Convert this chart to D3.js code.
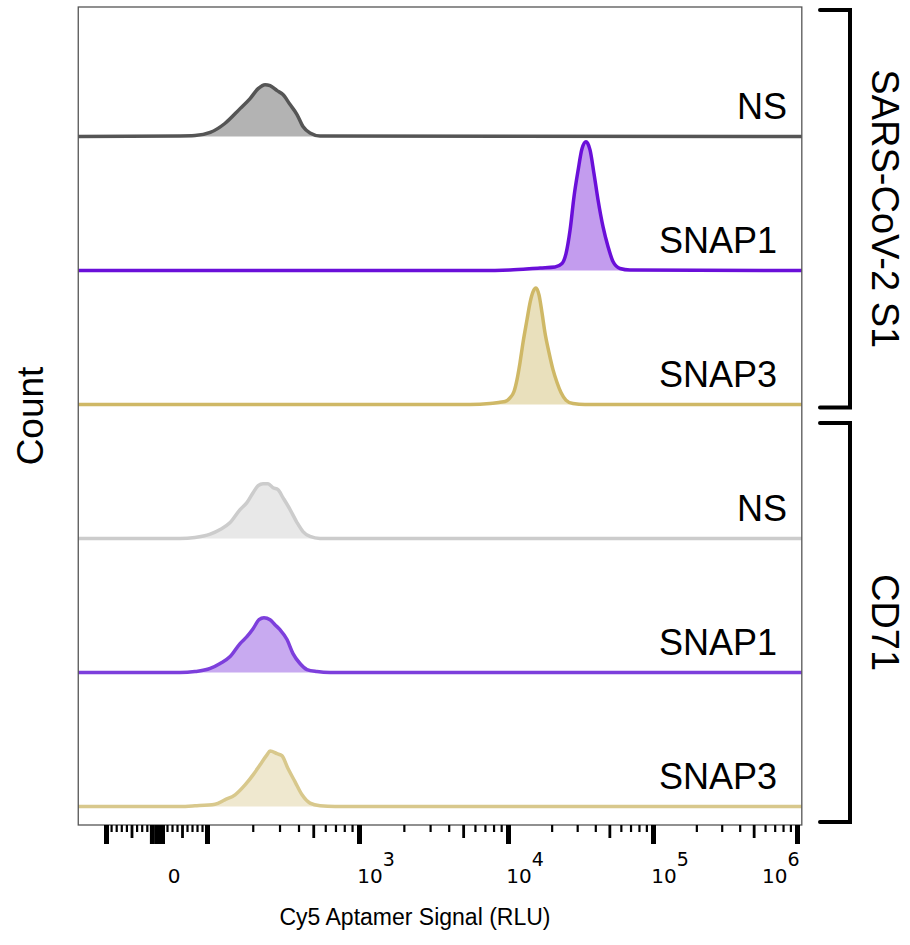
<!DOCTYPE html>
<html><head><meta charset="utf-8">
<script src="https://cdn.jsdelivr.net/npm/d3@7"></script>
<style>body{margin:0;background:#fff}svg{display:block}</style>
</head><body><svg id="c" width="910" height="945"></svg>
<script>
// ---- data ----
const rowLabels = ["NS", "SNAP1", "SNAP3", "NS", "SNAP1", "SNAP3"];
const groupLabels = ["SARS-CoV-2 S1", "CD71"];
const strokeColors = ["#555555", "#6a0fd9", "#cfb866", "#cccccc", "#7d3fdc", "#d8c88c"];
const fillColors = ["#b3b3b3", "#c39cee", "#e9e0bc", "#e8e8e8", "#c8aaf0", "#efe8cf"];

// S1 / NS
const s1NsRlu   = [46, 76, 105, 131, 165, 192, 217, 241, 260, 289, 316, 352, 391, 428, 476, 554];
const s1NsCount = [0.4, 0.7, 3.0, 9.7, 20.8, 28.3, 35.7, 38.7, 37.9, 34.2, 31.3, 23.8, 16.4, 7.4, 2.6, 0.4];
// S1 / SNAP1
const s1Snap1Rlu   = [6490, 10320, 16630, 21100, 23570, 25120, 26770, 28520, 30400, 32380, 34510, 36780, 39190, 41760, 45210, 48940, 52980, 59220, 69400];
const s1Snap1Count = [0, 0.4, 1.9, 2.6, 5.2, 12.6, 29.8, 55.1, 74.4, 90.8, 96.0, 90.0, 72.2, 52.8, 32.7, 17.9, 6.7, 1.5, 0.4];
// S1 / SNAP3
const s1Snap3Rlu   = [5560, 7570, 8840, 9550, 10320, 11000, 11540, 12100, 12690, 13520, 14180, 14870, 15600, 16360, 17160, 17990, 19180, 20430, 21780, 23200, 25120, 28070, 33960];
const s1Snap3Count = [0, 0.7, 1.7, 2.2, 5.0, 9.7, 18.6, 31.2, 46.1, 63.2, 75.9, 84.1, 87.0, 81.8, 68.4, 53.6, 38.7, 26.0, 16.4, 8.9, 3.2, 0.7, 0];
// CD71 / NS
const cdNsRlu   = [46, 76, 105, 122, 142, 165, 183, 201, 217, 234, 252, 272, 293, 316, 352, 391, 428, 476, 554];
const cdNsCount = [0, 0.7, 3.2, 6.7, 11.9, 21.6, 26.8, 34.2, 39.4, 40.9, 40.9, 37.9, 36.5, 30.5, 21.6, 11.9, 5.2, 1.5, 0];
// CD71 / SNAP1
const cdSnap1Rlu   = [46, 76, 105, 122, 142, 165, 183, 201, 220, 237, 260, 280, 302, 336, 368, 409, 455, 529, 645];
const cdSnap1Count = [0, 0.7, 3.0, 6.7, 11.9, 21.6, 26.8, 32.7, 39.4, 40.9, 39.4, 35.7, 32.0, 24.6, 14.1, 6.7, 2.2, 0.7, 0];
// CD71 / SNAP3
const cdSnap3Rlu   = [46, 76, 113, 131, 153, 178, 201, 223, 248, 260, 289, 311, 341, 379, 422, 476, 554, 695];
const cdSnap3Count = [0, 0.5, 1.7, 5.0, 8.7, 16.1, 23.6, 31.0, 38.5, 41.4, 39.4, 37.9, 28.3, 18.6, 8.7, 2.5, 0.5, 0];

const seriesRlu   = [s1NsRlu, s1Snap1Rlu, s1Snap3Rlu, cdNsRlu, cdSnap1Rlu, cdSnap3Rlu];
const seriesCount = [s1NsCount, s1Snap1Count, s1Snap3Count, cdNsCount, cdSnap1Count, cdSnap3Count];

// axis
const axisMin = -350, axisMax = 1.08e6;
const majorTicks = [-100, -10, 0, 10, 100, 1e3, 1e4, 1e5, 1e6];
const mediumTicks = [-50, 50, 500, 5e3, 5e4, 5e5];
const tickLabelValues = [0, 1e3, 1e4, 1e5, 1e6];
const tickLabelBase = ["0", "10", "10", "10", "10"];
const tickLabelExp = ["", "3", "4", "5", "6"];

// ---- drawing ----
const svg = d3.select("#c");
const F = "'Liberation Sans', Arial, sans-serif";

// biexponential-like transform: linear within ±100, log decades beyond
const tr = v => { const a = Math.abs(v); return a <= 100 ? v / 100 : Math.sign(v) * (Math.log10(a) - 1); };
const xs = d3.scaleLinear().domain([-1, 0, 1, 2, 3, 4, 5]).range([106, 157, 207, 359, 508, 653, 797]);
const x = v => xs(tr(v));

const frame = {left: x(axisMin), right: x(axisMax), top: 7, bottom: 825};
const rowBase = d3.scaleLinear().domain([0, 5]).range([136.5, 806.5]);
const yH = d3.scaleLinear().domain([0, 100]).range([0, 134]);

const plot = svg.append("g");
rowLabels.forEach((lab, i) => {
  const b = rowBase(i);
  const pts = [[axisMin, 0]].concat(seriesRlu[i].map((v, j) => [v, seriesCount[i][j]])).concat([[axisMax, 0]]);
  const area = d3.area().x(d => x(d[0])).y0(b).y1(d => b - yH(d[1])).curve(d3.curveMonotoneX);
  const line = d3.line().x(d => x(d[0])).y(d => b - yH(d[1])).curve(d3.curveMonotoneX);
  plot.append("path").attr("d", area(pts)).attr("fill", fillColors[i]);
  plot.append("path").attr("d", line(pts)).attr("fill", "none")
    .attr("stroke", strokeColors[i]).attr("stroke-width", 3.5).attr("stroke-linejoin", "round");
  plot.append("text").attr("x", 787).attr("y", b - 18).attr("text-anchor", "end")
    .attr("font-family", F).attr("font-size", 36).attr("fill", "#000")
    .text(lab === "NS" ? lab : lab + "\u00a0");
});

// frame
svg.append("rect").attr("x", frame.left).attr("y", frame.top)
  .attr("width", frame.right - frame.left).attr("height", frame.bottom - frame.top)
  .attr("fill", "none").attr("stroke", "#555").attr("stroke-width", 1.3);

// axis ticks
const minorTicks = [];
[20, 30, 40, 60, 70, 80, 90].forEach(m => { minorTicks.push(-m, m); });
[2, 3, 4, 5].forEach(k => [2, 3, 4, 6, 7, 8, 9].forEach(m => minorTicks.push(m * Math.pow(10, k))));

const axisG = svg.append("g").attr("transform", `translate(0,${frame.bottom})`);
function ticks(vals, size, width) {
  const g = axisG.append("g").call(d3.axisBottom(xs).tickValues(vals.map(tr)).tickSize(size).tickFormat(""));
  g.select(".domain").remove();
  g.selectAll("line").attr("stroke", "#000").attr("stroke-width", width);
}
ticks(minorTicks, 7, 2.2);
ticks(mediumTicks, 13, 2.8);
ticks(majorTicks, 19, 5);

// tick labels
tickLabelValues.forEach((v, i) => {
  const cx = Math.min(x(v) + 17, frame.right - 21);
  const t = svg.append("text").attr("x", cx).attr("y", 883).attr("text-anchor", "middle")
    .attr("font-family", "'DejaVu Sans', sans-serif").attr("font-size", 20).attr("fill", "#000");
  t.append("tspan").text(tickLabelBase[i]);
  if (tickLabelExp[i]) t.append("tspan").attr("dy", -17).attr("font-size", 19).text(tickLabelExp[i]);
});

// axis titles
svg.append("text").attr("x", 415).attr("y", 925).attr("text-anchor", "middle")
  .attr("font-family", F).attr("font-size", 23).text("Cy5 Aptamer Signal (RLU)");
svg.append("text").attr("transform", "translate(30,416) rotate(-90)").attr("text-anchor", "middle")
  .attr("dy", "0.36em").attr("font-family", F).attr("font-size", 37).text("Count");

// group brackets
const brackets = [[10, 407.5], [423, 822]];
brackets.forEach((br, i) => {
  svg.append("path").attr("d", `M820,${br[0]}H850V${br[1]}H820`)
    .attr("fill", "none").attr("stroke", "#000").attr("stroke-width", 4)
    .attr("stroke-linecap", "round").attr("stroke-linejoin", "miter");
  svg.append("text").attr("transform", `translate(886,${(br[0] + br[1]) / 2}) rotate(90)`)
    .attr("text-anchor", "middle").attr("dy", "0.36em")
    .attr("font-family", F).attr("font-size", 38).text(groupLabels[i]);
});
</script></body></html>
